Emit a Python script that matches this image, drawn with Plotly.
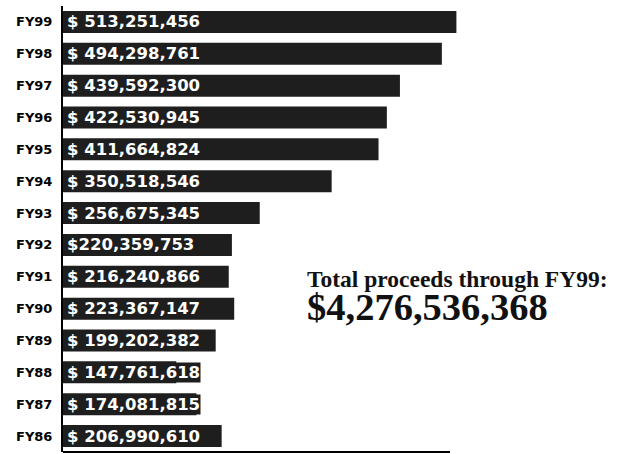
import plotly.graph_objects as go

years = ["FY99", "FY98", "FY97", "FY96", "FY95", "FY94", "FY93",
         "FY92", "FY91", "FY90", "FY89", "FY88", "FY87", "FY86"]
proceeds = [513251456, 494298761, 439592300, 422530945, 411664824, 350518546, 256675345,
            220359753, 216240866, 223367147, 199202382, 147761618, 174081815, 206990610]
labels = ["$ 513,251,456", "$ 494,298,761", "$ 439,592,300", "$ 422,530,945",
          "$ 411,664,824", "$ 350,518,546", "$ 256,675,345", "$220,359,753",
          "$ 216,240,866", "$ 223,367,147", "$ 199,202,382", "$ 147,761,618",
          "$ 174,081,815", "$ 206,990,610"]
total_title = "Total proceeds through FY99:"
total_value = "$4,276,536,368"

W, H = 621, 454
ML, MR, MT, MB = 63, 0, 6, 2
pw, ph = W - ML - MR, H - MT - MB
BAR = "#1e1e1e"

def px_x(x):
    return (x - ML) / pw

def px_y(y):
    return (H - MB - y) / ph

fig = go.Figure()
fig.add_trace(go.Bar(
    y=years, x=proceeds, orientation="h",
    marker=dict(color=BAR, line=dict(width=0)),
    width=0.69,
    hoverinfo="skip",
))

value_annotations = [
    dict(text=lab, x=0, y=yr, xref="x", yref="y", xanchor="left", yanchor="middle",
         xshift=3, showarrow=False, bgcolor=BAR, borderpad=0,
         font=dict(family="DejaVu Sans", size=16.5, color="white", weight="bold"))
    for yr, lab in zip(years, labels)
]

fig.update_layout(
    width=W, height=H,
    margin=dict(l=ML, r=MR, t=MT, b=MB),
    paper_bgcolor="white", plot_bgcolor="white",
    showlegend=False,
    xaxis=dict(range=[0, 728e6], showgrid=False, zeroline=False, automargin=False,
               showline=False, showticklabels=False, ticks=""),
    yaxis=dict(range=[13.5, -0.5], showgrid=False, zeroline=False, automargin=False,
               showline=True, linecolor="black", linewidth=2,
               ticks="", ticklabelstandoff=6,
               tickfont=dict(family="DejaVu Sans", size=13, color="black", weight="bold")),
    shapes=[dict(type="line", xref="paper", yref="paper",
                 x0=0, x1=px_x(450), y0=0, y1=0,
                 line=dict(color="black", width=2))],
    annotations=value_annotations + [
        dict(text=("<span style='font-size:23.5px'>" + total_title + "</span><br>"
                   "<span style='font-size:38.5px'>" + total_value + "</span>"),
             xref="paper", yref="paper", align="left",
             x=px_x(305), y=px_y(297), xanchor="left", yanchor="middle",
             showarrow=False,
             font=dict(family="Liberation Serif", size=25, color="#111", weight="bold")),
    ],
)

fig.write_html("out.html", config={"displayModeBar": False},
               post_script="document.body.style.margin='0';")
